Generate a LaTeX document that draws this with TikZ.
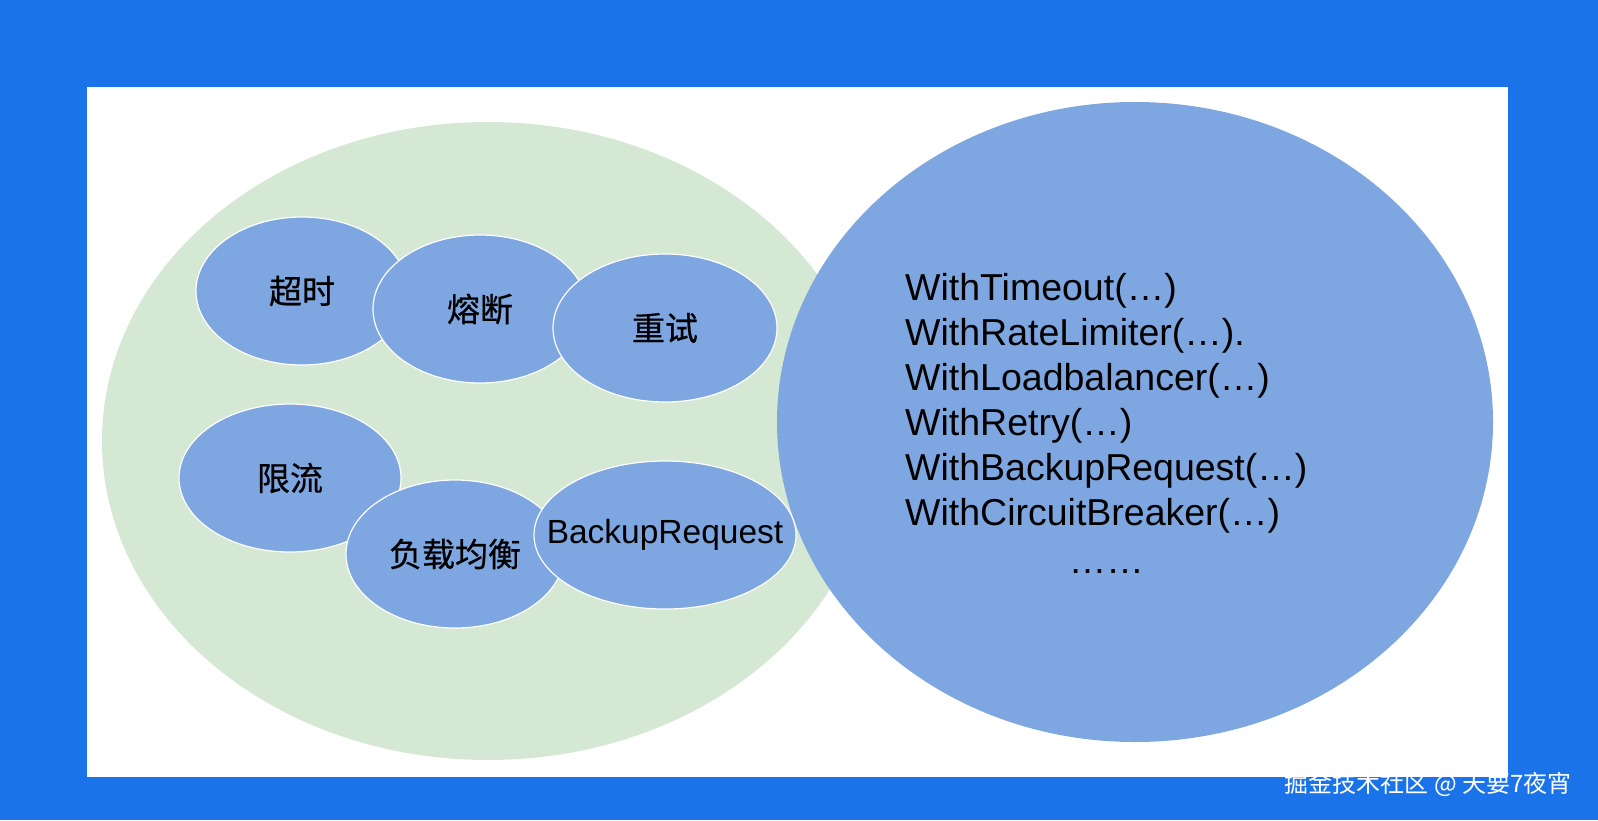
\documentclass[tikz,border=0pt]{standalone}
\usepackage{fontspec}
\setmainfont{Liberation Sans}
\newfontfamily\cjk{Noto Sans CJK SC}[FakeBold=0.6]
\newfontfamily\cjkplain{Noto Sans CJK SC}
\usetikzlibrary{positioning,shapes.geometric}
\definecolor{pageblue}{HTML}{1A73E8}
\definecolor{softgreen}{HTML}{D5E8D4}
\definecolor{bubbleblue}{HTML}{7EA6E0}

\begin{document}
\begin{tikzpicture}[
    x=1pt, y=-1pt,
    region/.style={ellipse, inner sep=0pt},
    bubble/.style={ellipse, fill=bubbleblue, draw=white, line width=1.2pt, inner sep=0pt, minimum height=148pt, font=\cjk\fontsize{33}{40}\selectfont},
    api/.style={font=\fontsize{37.5}{45}\selectfont, inner sep=0pt}
]
\fill[pageblue] (0,0) rectangle (1598,820);
\useasboundingbox (0,0) rectangle (1598,820);
\fill[white] (87,87) rectangle (1508,777);

% two big regions
\node[region, fill=softgreen, minimum width=772pt, minimum height=638pt] (tools) at (488,441) {};
\node[region, fill=bubbleblue, minimum width=716pt, minimum height=640pt] (options) at (1135,422) {};

% governance bubbles
\node[bubble, minimum width=212pt] (timeout) at (302,291) {超时};
\node[bubble, minimum width=214pt] (breaker) at (480,309) {熔断};
\node[bubble, minimum width=224pt] (retry) at (665,328) {重试};
\node[bubble, minimum width=222pt] (limit) at (290,478) {限流};
\node[bubble, minimum width=218pt] (balance) at (455,554) {负载均衡};
\node[bubble, minimum width=262pt, font=\fontsize{33.5}{40}\selectfont] (backup) at (665,535) {\makebox[0pt]{BackupRequest}};

% option list
\node[api, align=left, anchor=north west] (apilist) at (905,273)
{WithTimeout(…)\\WithRateLimiter(…).\\WithLoadbalancer(…)\\WithRetry(…)\\WithBackupRequest(…)\\WithCircuitBreaker(…)};
\node[api, below=36pt of apilist] (more) {……};

\node[text=white, font=\cjkplain\fontsize{24}{28}\selectfont, anchor=east] (credit) at (1575,784) {掘金技术社区 @ 天要7夜宵};
\end{tikzpicture}
\end{document}
